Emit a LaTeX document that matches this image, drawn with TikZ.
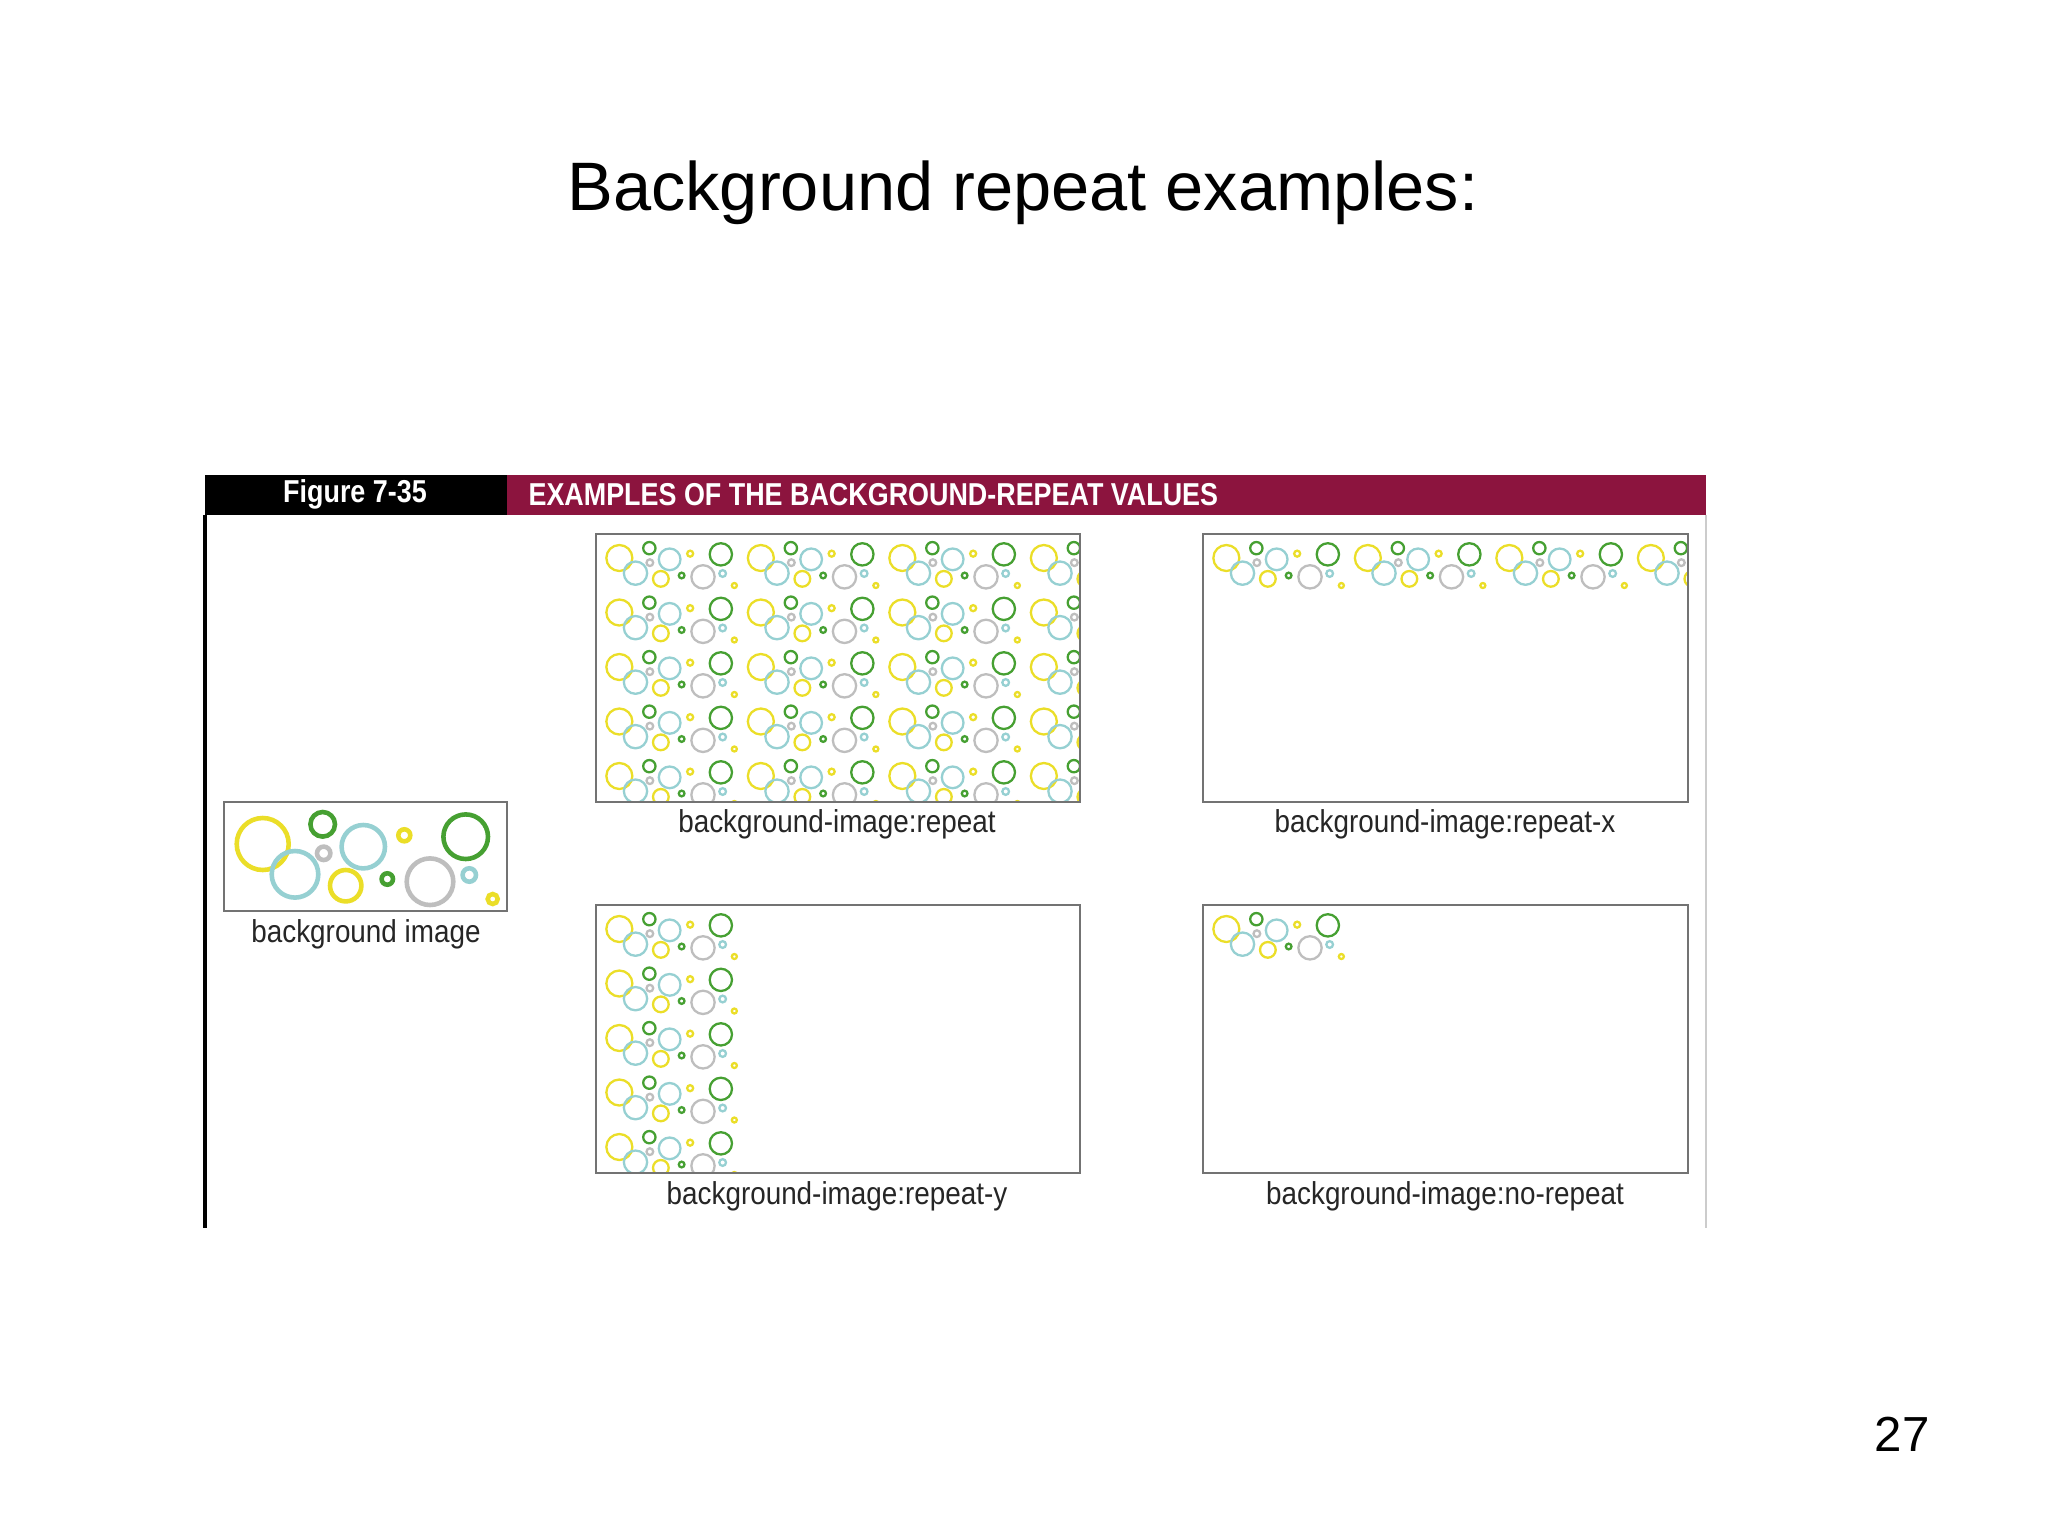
\documentclass[tikz,border=0pt]{standalone}
\usepackage{fontspec}
\setmainfont{Liberation Sans}
\begin{document}
\begin{tikzpicture}[x=0.01cm,y=-0.01cm]
\definecolor{cy}{RGB}{235,222,40}
\definecolor{cc}{RGB}{150,208,210}
\definecolor{cg}{RGB}{70,160,50}
\definecolor{cgr}{RGB}{190,190,190}
\definecolor{crim}{RGB}{140,20,62}
\tikzset{panel/.style={draw=gray!90!black,line width=0.6pt},
 lab/.style={font=\fontsize{9}{10}\selectfont,text=black!85,inner sep=0pt,xscale=0.88}}
\newcommand\bgtile[3]{%
\begin{scope}[shift={(#1,#2)},scale=#3]
\draw[cy,line width=#3*1.3pt] (38.7,42) circle (26) (121.7,83.7) circle (15.7) (180.3,33.3) circle (6) (268.7,97) circle (5);
\draw[cc,line width=#3*1.3pt] (71,72.3) circle (23.3) (139.3,44.7) circle (21.7) (245.3,73) circle (6.7);
\draw[cg,line width=#3*1.3pt] (98.7,22.3) circle (12.3) (163.3,77) circle (5.7) (241.7,34.7) circle (22.3);
\draw[cgr,line width=#3*1.3pt] (99.7,51.3) circle (6.7) (206,79.7) circle (23.3);
\end{scope}}
\fill[white] (0,0) rectangle (2048,1536);
\node (title) at (1023,193) {\fontsize{19.5}{24}\selectfont Background repeat examples:};
\node (pg) at (1902,1434) {\fontsize{14}{17}\selectfont 27};
% header
\fill[black] (205,475) rectangle (507,515);
\fill[crim] (507,475) rectangle (1706,515);
\node[text=white,font=\bfseries\fontsize{9}{11}\selectfont,xscale=0.85] (fig) at (355,494) {Figure 7-35};
\node[text=white,font=\bfseries\fontsize{9}{11}\selectfont,anchor=west,xscale=0.85] (hdr) at (518,495) {EXAMPLES OF THE BACKGROUND-REPEAT VALUES};
\draw[black,line width=1.2pt] (205,515) -- (205,1228);
\draw[gray!40,line width=0.6pt] (1706,515) -- (1706,1228);
% background image tile
\bgtile{224}{802}{1}
\draw[panel] (224,802) rectangle (507,911);
\node[lab] (lbg) at (366,934) {background image};
% repeat
\begin{scope}
\clip (596,534) rectangle (1080,802);
\foreach \i in {0,...,3}{\foreach \j in {0,...,4}{\bgtile{600+\i*141.5}{537+\j*54.5}{0.5}}}
\end{scope}
\draw[panel] (596,534) rectangle (1080,802);
\node[lab] (l1) at (837,824) {background-image:repeat};
% repeat-x
\begin{scope}
\clip (1203,534) rectangle (1688,802);
\foreach \i in {0,...,3}{\bgtile{1207+\i*141.5}{537}{0.5}}
\end{scope}
\draw[panel] (1203,534) rectangle (1688,802);
\node[lab] (l2) at (1445,824) {background-image:repeat-x};
% repeat-y
\begin{scope}
\clip (596,905) rectangle (1080,1173);
\foreach \j in {0,...,4}{\bgtile{600}{908+\j*54.5}{0.5}}
\end{scope}
\draw[panel] (596,905) rectangle (1080,1173);
\node[lab] (l3) at (837,1196) {background-image:repeat-y};
% no-repeat
\bgtile{1207}{908}{0.5}
\draw[panel] (1203,905) rectangle (1688,1173);
\node[lab] (l4) at (1445,1196) {background-image:no-repeat};
\end{tikzpicture}
\end{document}
